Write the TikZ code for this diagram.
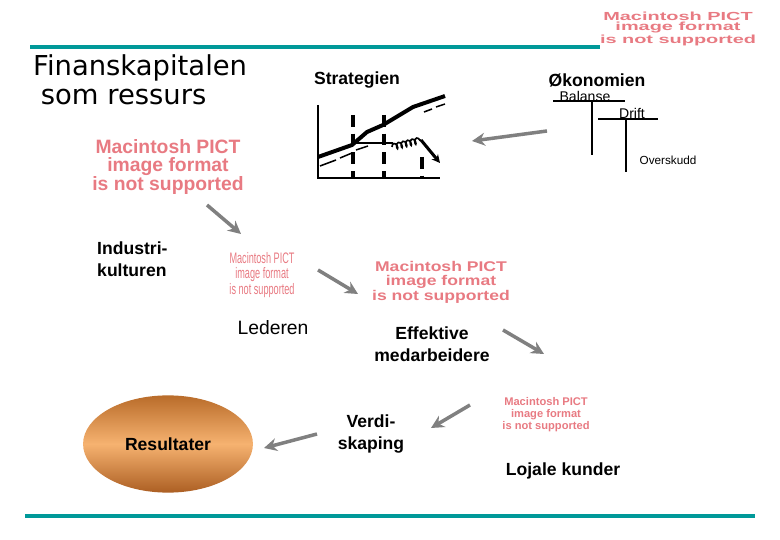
\documentclass[tikz,border=0pt]{standalone}
\usepackage{fontspec}
\setmainfont{Liberation Sans}
\newfontfamily\titlefont{DejaVu Sans}
\usetikzlibrary{arrows.meta}
\usetikzlibrary{decorations.pathmorphing}
\usetikzlibrary{shapes.geometric}
\definecolor{mteal}{rgb}{0, 0.6, 0.6}
\definecolor{mpink}{rgb}{0.91, 0.48, 0.51}
\definecolor{mgray}{rgb}{0.5, 0.5, 0.5}

\begin{document}
\begin{tikzpicture}[x=0.03cm, y=-0.03cm,
    lbl/.style={font=\fontsize{15}{18.5}\selectfont\bfseries, align=center, inner sep=0},
    small/.style={font=\fontsize{11}{13}\selectfont, inner sep=0},
    pict/.style={text=mpink, align=center, inner sep=0, transform shape},
    flow/.style={mgray, line width=3pt, -{Stealth[length=11pt, width=11pt]}},
    axis/.style={line width=1.8pt},
    vline/.style={line width=2.6pt, dash pattern=on 10pt off 6pt}]
    \useasboundingbox (0, 0) rectangle (780, 540);

    \draw [mteal, line width=2.6pt] (30, 47) -- (600, 47);
    \draw [mteal, line width=2.6pt] (25, 516) -- (755, 516);

    \node [anchor=north west, inner sep=0, align=left, font=\titlefont\fontsize{23.4}{25}\selectfont] (title) at (33, 54) {Finanskapitalen\\\hspace*{0.28em}som ressurs};

    \node [pict, font=\fontsize{10}{8.6}\selectfont\bfseries, xscale=1.7] (pict1) at (678, 29) {Macintosh PICT\\image format\\is not supported};
    \node [pict, font=\fontsize{16.5}{16.2}\selectfont\bfseries] (pict2) at (168, 167) {Macintosh PICT\\image format\\is not supported};
    \node [pict, font=\fontsize{13}{13.2}\selectfont, xscale=0.6] (pict3) at (262, 275) {Macintosh PICT\\image format\\is not supported};
    \node [pict, font=\fontsize{12}{12.4}\selectfont\bfseries, xscale=1.25] (pict4) at (441, 282) {Macintosh PICT\\image format\\is not supported};
    \node [pict, font=\fontsize{9.5}{10.2}\selectfont\bfseries] (pict5) at (546, 415) {Macintosh PICT\\image format\\is not supported};

    \node [lbl] (strategi) at (357, 80) {Strategien};
    \node [lbl] (okonomi) at (597, 80) {Økonomien};

    \draw [axis] (318, 105) -- (318, 178) -- (440, 178);
    \draw [vline] (353, 115) -- (353, 178);
    \draw [vline] (384, 115) -- (384, 178);
    \draw [vline] (422, 157) -- (422, 178);
    \draw [line width=3.4pt, line join=round] (318, 157) -- (352, 145) -- (367, 132) -- (383, 125) -- (413, 107) -- (445, 96);
    \draw [line width=1.3pt] (320, 166) -- (336, 160) (340, 158) -- (352, 153) (356, 150) -- (368, 146);
    \draw [line width=1.3pt] (424, 112) -- (432, 109) (436, 107) -- (445, 104);
    \draw [line width=1.5pt] (355, 143) -- (393, 143);
    \draw [line width=1.4pt, decorate, decoration={coil, amplitude=2.5, segment length=4}] (392, 147) -- (421, 140);
    \draw [line width=2.6pt, -{Stealth[length=7pt, width=7pt]}] (421, 140) -- (440, 163);

    \draw [line width=1.6pt] (553, 101) -- (625, 101) (592, 101) -- (592, 155);
    \draw [line width=1.6pt] (598, 119) -- (658, 119) (626, 119) -- (626, 172);
    \node [small, font=\fontsize{12}{14}\selectfont] (balanse) at (585, 96) {Balanse};
    \node [small, font=\fontsize{12}{14}\selectfont] (drift) at (632, 113) {Drift};
    \node [small, font=\fontsize{10}{12}\selectfont] (overskudd) at (668, 160) {Overskudd};

    \node [lbl, align=left, anchor=west] (industri) at (97, 259) {Industri-\\kulturen};
    \node [inner sep=0, font=\fontsize{16.5}{19}\selectfont] (leder) at (273, 328) {Lederen};
    \node [lbl] (medarb) at (432, 344) {Effektive\\medarbeidere};
    \node [lbl] (verdi) at (371, 434) {Verdi-\\skaping};
    \node [lbl] (lojale) at (563, 471) {Lojale kunder};

    \node [ellipse, minimum width=145pt, minimum height=83pt, inner sep=0,
           top color={rgb,255:red,185;green,108;blue,42}, bottom color={rgb,255:red,172;green,95;blue,35},
           middle color={rgb,255:red,246;green,178;blue,112}, lbl] (res) at (168, 444) {Resultater};

    \coordinate (a1s) at (547, 131);
    \coordinate (a1e) at (472, 141);
    \coordinate (a2s) at (207, 205);
    \coordinate (a2e) at (241, 234);
    \coordinate (a3s) at (318, 270);
    \coordinate (a3e) at (358, 294);
    \coordinate (a4s) at (503, 330);
    \coordinate (a4e) at (544, 354);
    \coordinate (a5s) at (470, 405);
    \coordinate (a5e) at (431, 428);
    \coordinate (a6s) at (317, 434);
    \coordinate (a6e) at (264, 448);

    \draw [flow] (a1s) -- (a1e);
    \draw [flow] (a2s) -- (a2e);
    \draw [flow] (a3s) -- (a3e);
    \draw [flow] (a4s) -- (a4e);
    \draw [flow] (a5s) -- (a5e);
    \draw [flow] (a6s) -- (a6e);
  \end{tikzpicture}
\end{document}
